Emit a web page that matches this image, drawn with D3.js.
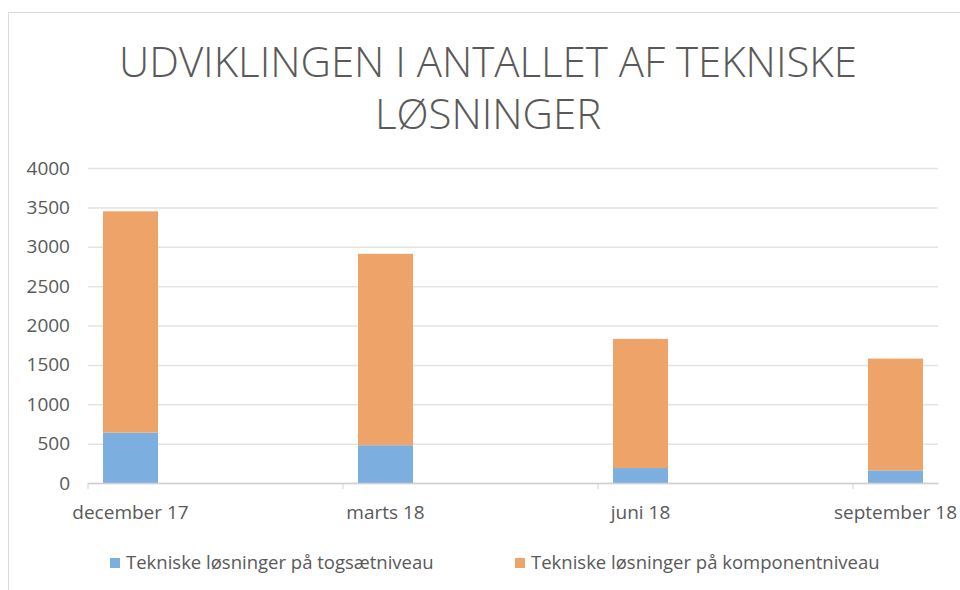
<!DOCTYPE html>
<html lang="da">
  <head>
    <meta charset="UTF-8">
    <title>Udviklingen i antallet af tekniske løsninger</title>
    <script src="https://d3js.org/d3.v7.min.js"></script>
    <style>
      body { margin: 0; background: #fff; }
      text { font-family: "Open Sans", sans-serif; fill: #595959; }
    </style>
  </head>
  <body>
    <script>
      // month slots on the date axis (dec 17 .. sep 18)
      const months = ["december 17", "januar 18", "februar 18", "marts 18", "april 18", "maj 18",
                      "juni 18", "juli 18", "august 18", "september 18"];
      const categories = ["december 17", "marts 18", "juni 18", "september 18"];
      const togsaet = [640, 480, 190, 160];
      const komponent = [2810, 2430, 1640, 1420];
      const yTicks = [0, 500, 1000, 1500, 2000, 2500, 3000, 3500, 4000];
      const seriesNames = ["Tekniske løsninger på togsætniveau", "Tekniske løsninger på komponentniveau"];
      const colors = ["#7daee0", "#eea369"];

      const w = 960, h = 590;
      const margin = {top: 168, right: 22, bottom: 107, left: 88};

      const svg = d3.select("body").append("svg")
        .attr("width", w)
        .attr("height", h);

      // chart border
      svg.append("rect")
        .attr("x", 8.5).attr("y", 12.5)
        .attr("width", w).attr("height", h)
        .attr("fill", "none")
        .attr("stroke", "#d9d9d9");

      svg.append("text")
        .attr("x", 488)
        .attr("text-anchor", "middle")
        .style("font-size", "42px")
        .style("font-weight", 300)
        .selectAll("tspan")
        .data(["UDVIKLINGEN I ANTALLET AF TEKNISKE", "LØSNINGER"])
        .enter().append("tspan")
        .attr("x", 488)
        .attr("y", (d, i) => 77 + i * 52)
        .text(d => d);

      const x = d3.scaleBand()
        .domain(months)
        .range([margin.left, w - margin.right])
        .paddingInner(0.353)
        .paddingOuter(0.1765);

      const y = d3.scaleLinear()
        .domain([0, 4000])
        .range([h - margin.bottom, margin.top]);

      const yAxis = svg.append("g")
        .attr("transform", `translate(${margin.left},0)`)
        .call(d3.axisLeft(y).tickValues(yTicks).tickFormat(d3.format("d"))
          .tickSize(-(w - margin.left - margin.right)).tickPadding(18));
      yAxis.select(".domain").remove();
      yAxis.selectAll("line").attr("stroke", "#e3e3e3").attr("stroke-width", 1.5);
      yAxis.selectAll("text").style("font-size", "19px").attr("fill", "#595959");

      const data = categories.map((c, i) => ({cat: c, togsaet: togsaet[i], komponent: komponent[i]}));
      const stacked = d3.stack().keys(["togsaet", "komponent"])(data);

      svg.selectAll("g.series")
        .data(stacked)
        .enter().append("g")
        .attr("class", "series")
        .attr("fill", (d, i) => colors[i])
        .selectAll("rect")
        .data(d => d)
        .enter().append("rect")
        .attr("x", d => x(d.data.cat))
        .attr("width", x.bandwidth())
        .attr("y", d => y(d[1]))
        .attr("height", d => y(d[0]) - y(d[1]));

      // x axis: baseline, ticks at month-slot start, labels under bars
      const xAxis = svg.append("g")
        .attr("transform", `translate(0,${y(0)})`)
        .call(d3.axisBottom(x).tickValues(categories).tickSize(0).tickPadding(23));
      xAxis.select(".domain").attr("stroke", "#d0d0d0").attr("stroke-width", 1.5);
      xAxis.selectAll("text").style("font-size", "19px").attr("fill", "#595959");
      const half = x.step() * x.paddingInner() / 2;
      xAxis.selectAll("line.slot")
        .data(categories)
        .enter().append("line")
        .attr("class", "slot")
        .attr("x1", d => x(d) - half)
        .attr("x2", d => x(d) - half)
        .attr("y1", 0).attr("y2", 6)
        .attr("stroke", "#d0d0d0");

      // legend
      const legendX = [110, 515];
      const legend = svg.selectAll("g.legend")
        .data(seriesNames)
        .enter().append("g")
        .attr("class", "legend")
        .attr("transform", (d, i) => `translate(${legendX[i]},563)`);
      legend.append("rect")
        .attr("x", 0).attr("y", -5)
        .attr("width", 10).attr("height", 10)
        .attr("fill", (d, i) => colors[i]);
      legend.append("text")
        .attr("x", 16)
        .attr("dy", "0.35em")
        .style("font-size", "18.5px")
        .text(d => d);
    </script>
  </body>
</html>
